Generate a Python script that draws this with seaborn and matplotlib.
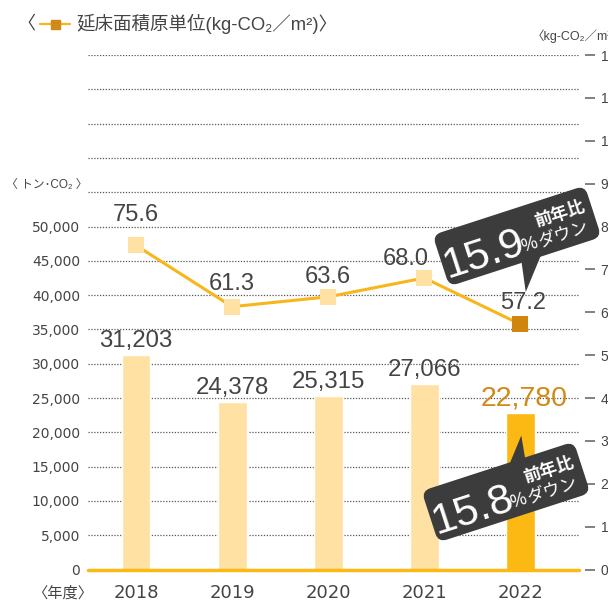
import numpy as np
import matplotlib
matplotlib.use("Agg")
import matplotlib.pyplot as plt
import matplotlib.transforms as mtransforms
from matplotlib.patches import FancyBboxPatch, Polygon
from matplotlib.lines import Line2D
import pandas as pd
import seaborn as sns

# データ
years = ["2018", "2019", "2020", "2021", "2022"]
emissions = [31203, 24378, 25315, 27066, 22780]      # トン-CO2
intensity = [75.6, 61.3, 63.6, 68.0, 57.2]          # kg-CO2/m2
emission_labels = ["31,203", "24,378", "25,315", "27,066", "22,780"]
intensity_labels = ["75.6", "61.3", "63.6", "68.0", "57.2"]
left_ticks = list(range(0, 55000, 5000))
right_ticks = list(range(0, 130, 10))
grid_levels = list(range(5000, 80000, 5000))
down_emission = "15.8"
down_intensity = "15.9"

# 色
bar_colors = ["#FEE1A3"] * 4 + ["#FCB913"]
marker_colors = ["#FEE1A3"] * 4 + ["#D0850F"]
line_color = "#F8B61A"
text_color = "#444444"
accent = "#D08A1A"
bubble_color = "#3C3C3C"

# ラベル位置の微調整 (px)
line_label_offsets = [(0, 24), (0, 17), (0, 14), (-19, 13), (3, 15)]

sns.set_theme(style="white")
plt.rcParams["font.family"] = ["Liberation Sans", "Noto Sans CJK JP", "DejaVu Sans"]

W, H, DPI = 608, 610, 100
PT = 72 / DPI
fig = plt.figure(figsize=(W / DPI, H / DPI), dpi=DPI)
fig.patch.set_facecolor("white")
ax = fig.add_axes([88 / W, 1 - 569.5 / H, (579 - 88) / W, (569.5 - 55) / H])

df = pd.DataFrame({"year": years, "emissions": emissions, "intensity": intensity})

# 棒グラフ (排出量)
sns.barplot(data=df, x="year", y="emissions", hue="year", palette=bar_colors,
            width=0.3, saturation=1, legend=False, ax=ax, zorder=2)
ax.set_ylim(0, 75000)
for g in grid_levels:
    ax.axhline(g, color="#555555", lw=0.9, ls=(0, (1, 1.3)), zorder=0)
ax.axhline(0, color="#FCB913", lw=2.5, zorder=4, clip_on=False)

ax.set_yticks(left_ticks)
ax.set_yticklabels([f"{t:,}" for t in left_ticks], fontfamily="DejaVu Sans")
ax.tick_params(axis="y", length=0, pad=8 * PT, labelsize=10, labelcolor=text_color)
ax.set_xticks(range(len(years)))
ax.set_xticklabels(years, fontfamily="DejaVu Sans")
ax.tick_params(axis="x", length=0, pad=15 * PT, labelsize=13, labelcolor=text_color)
ax.set_xlabel("")
ax.set_ylabel("")
for s in ax.spines.values():
    s.set_visible(False)

for i, (v, lab) in enumerate(zip(emissions, emission_labels)):
    last = i == len(years) - 1
    ax.annotate(lab, (i, v), xytext=(4 * PT if last else 0, 8 * PT),
                textcoords="offset points", ha="center", va="baseline",
                fontsize=20.5 if last else 17.3,
                color=accent if last else text_color, zorder=5)

# 折れ線 (原単位)
ax2 = ax.twinx()
xs = np.arange(len(years))
sns.lineplot(x=xs, y=intensity, ax=ax2, color=line_color, lw=2.2, zorder=3)
sns.scatterplot(x=xs, y=intensity, hue=years, palette=marker_colors, marker="s",
                s=135, linewidth=0, legend=False, ax=ax2, zorder=4)
ax2.set_ylim(0, 120)
ax2.set_yticks(right_ticks)
ax2.set_yticklabels([str(t) for t in right_ticks], fontfamily="DejaVu Sans")
ax2.spines["right"].set_position(("outward", 4))
for s in ax2.spines.values():
    s.set_visible(False)
ax2.tick_params(axis="y", length=10 * PT, width=1.3, color="#777777", pad=6 * PT,
                labelsize=10, labelcolor=text_color)
ax2.set_ylabel("")
ax2.grid(False)

for i, (v, lab) in enumerate(zip(intensity, intensity_labels)):
    dx, dy = line_label_offsets[i]
    ax2.annotate(lab, (i, v), xytext=(dx * PT, dy * PT), textcoords="offset points",
                 ha="center", va="baseline", fontsize=17, color=text_color, zorder=5)

ax.set_xlim(-0.5, 4.61)

# 見出し・単位
fig.text(17 / W, 1 - 24 / H, "〈", fontsize=13, color=text_color, ha="left", va="center")
fig.add_artist(Line2D([40 / W, 70 / W], [1 - 24 / H, 1 - 24 / H], color=line_color, lw=1.6,
                      transform=fig.transFigure))
fig.add_artist(Line2D([55 / W], [1 - 24 / H], marker="s", ms=9 * PT, mfc=accent, mec=accent,
                      lw=0, transform=fig.transFigure))
fig.text(76 / W, 1 - 24 / H, "延床面積原単位(kg-CO₂／m²)〉", fontsize=13.3, color=text_color,
         ha="left", va="center")
fig.text(532 / W, 1 - 36 / H, "〈kg-CO₂／m²〉", fontsize=9, color=text_color, ha="left", va="center")
fig.text(6 / W, 1 - 185 / H, "〈 トン･CO₂ 〉", fontsize=8.5, color=text_color, ha="left", va="center")
fig.text(32 / W, 1 - 593 / H, "〈年度〉", fontsize=11, color=text_color, ha="left", va="center")


# 吹き出し
def bubble(cx, cy, pct, tail):
    T = (mtransforms.Affine2D().rotate_deg(18).translate(cx, H - cy).scale(1 / DPI)
         + fig.dpi_scale_trans)
    fig.add_artist(Polygon(tail, closed=True, fc=bubble_color, ec="none", transform=T))
    fig.add_artist(FancyBboxPatch((-75, -22), 150, 44,
                                  boxstyle="round,pad=5,rounding_size=9",
                                  fc=bubble_color, ec="none", transform=T))
    kw = dict(transform=T, rotation=18, rotation_mode="anchor", color="white")
    fig.text(-79, -19, pct, fontsize=31, ha="left", va="baseline", **kw)
    fig.text(9, -13, "%", fontsize=13, ha="center", va="center", **kw)
    fig.text(45, -13, "ダウン", fontsize=12.5, ha="center", va="center", **kw)
    fig.text(47, 8, "前年比", fontsize=12.5, fontweight="bold", ha="center", va="center", **kw)


bubble(517, 236, down_intensity, [(-3, -22), (20, -22), (-9, -56)])
bubble(506, 492, down_emission, [(9, 22), (28, 22), (32, 49)])

fig.savefig("out.png", dpi=DPI)
